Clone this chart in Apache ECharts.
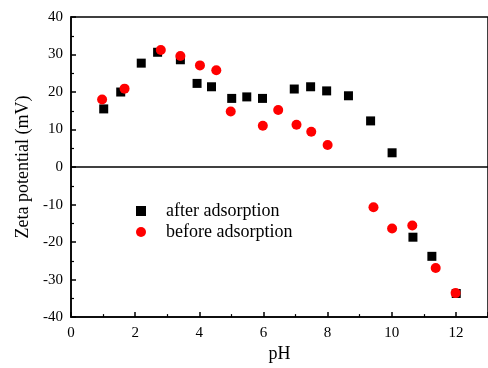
<!DOCTYPE html>
<html>
<head>
<meta charset="utf-8">
<script src="https://cdn.jsdelivr.net/npm/echarts@6/dist/echarts.min.js"></script>
<style>
  html, body { margin: 0; padding: 0; background: #fff; }
  #chart { width: 488px; height: 368px; }
</style>
</head>
<body>
<div id="chart"></div>
<script>
// pH values and zeta potentials (mV)
var afterPH   = [1.02, 1.55, 2.19, 2.70, 3.41, 3.93, 4.38, 5.01, 5.48, 5.97, 6.96, 7.47, 7.97, 8.65, 9.34, 10.01, 10.66, 11.25, 12.01];
var afterZeta = [15.5, 20.0, 27.7, 30.6, 28.6, 22.3, 21.4, 18.3, 18.7, 18.3, 20.8, 21.4, 20.3, 19.0, 12.3, 3.8, -18.7, -23.8, -33.7];

var beforePH   = [0.97, 1.67, 2.80, 3.41, 4.02, 4.53, 4.98, 5.98, 6.46, 7.03, 7.49, 8.00, 9.43, 10.01, 10.64, 11.37, 11.99];
var beforeZeta = [18.0, 20.9, 31.2, 29.6, 27.1, 25.8, 14.8, 11.0, 15.2, 11.3, 9.4, 5.9, -10.7, -16.4, -15.6, -26.9, -33.6];

var seriesNames = ['after adsorption', 'before adsorption'];
var xTitle = 'pH';
var yTitle = 'Zeta potential (mV)';

function pairs(xs, ys) { return xs.map(function (x, i) { return [x, ys[i]]; }); }

var font = 'Liberation Serif, Times New Roman, serif';
var chart = echarts.init(document.getElementById('chart'), null, { renderer: 'canvas' });
chart.setOption({
  animation: false,
  backgroundColor: '#fff',
  grid: { left: 71, top: 17, width: 420, height: 310, show: true, borderColor: '#000', borderWidth: 1.5, backgroundColor: 'transparent' },
  legend: {
    orient: 'vertical', left: 131, top: 197, itemGap: 3,
    itemWidth: 10, itemHeight: 10,
    textStyle: { fontFamily: font, fontSize: 18, color: '#000', padding: [0, 0, 0, 15] },
    data: [
      { name: seriesNames[0], icon: 'rect', itemStyle: { opacity: 1 } },
      { name: seriesNames[1], icon: 'circle', itemStyle: { opacity: 1 } }
    ]
  },
  xAxis: {
    type: 'value', min: 0, max: 13, interval: 2,
    name: xTitle, nameLocation: 'middle', nameGap: 20,
    nameTextStyle: { fontFamily: font, fontSize: 18, color: '#000' },
    axisLine: { onZero: false, lineStyle: { color: '#000', width: 1.5 } },
    axisTick: { inside: true, length: 5, lineStyle: { color: '#000', width: 1.5 } },
    minorTick: { show: true, splitNumber: 2, length: 3, lineStyle: { color: '#000', width: 1.2 } },
    axisLabel: { fontFamily: font, fontSize: 15, color: '#000', margin: 8, showMaxLabel: false },
    splitLine: { show: false }
  },
  yAxis: {
    type: 'value', min: -40, max: 40, interval: 10,
    name: yTitle, nameLocation: 'middle', nameGap: 36, nameRotate: 90,
    nameTextStyle: { fontFamily: font, fontSize: 18, color: '#000' },
    axisLine: { onZero: false, lineStyle: { color: '#000', width: 1.5 } },
    axisTick: { inside: true, length: 5, lineStyle: { color: '#000', width: 1.5 } },
    minorTick: { show: true, splitNumber: 2, length: 3, lineStyle: { color: '#000', width: 1.2 } },
    axisLabel: { fontFamily: font, fontSize: 15, color: '#000', margin: 8 },
    splitLine: { show: false }
  },
  series: [
    {
      name: seriesNames[0], type: 'scatter', symbol: 'rect', symbolSize: 9,
      itemStyle: { color: '#000', opacity: 1 }, z: 3,
      data: pairs(afterPH, afterZeta),
      markLine: {
        silent: true, symbol: 'none', label: { show: false },
        lineStyle: { color: '#000', width: 1.5, type: 'solid' },
        data: [{ yAxis: 0 }]
      }
    },
    {
      name: seriesNames[1], type: 'scatter', symbol: 'circle', symbolSize: 10,
      itemStyle: { color: '#ff0000', opacity: 1 }, z: 4,
      data: pairs(beforePH, beforeZeta)
    }
  ]
});
</script>
</body>
</html>
